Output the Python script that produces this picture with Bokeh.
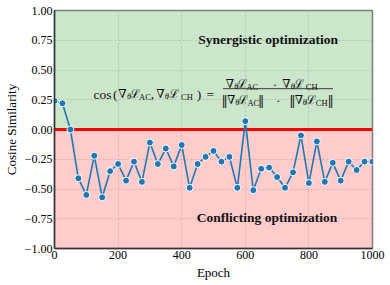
from bokeh.plotting import figure
from bokeh.models import BoxAnnotation, Span, Label, FixedTicker, CustomJSTickFormatter, Range1d
from bokeh.embed import file_html
from bokeh.resources import INLINE

# ---- data ----
epochs = list(range(0, 1001, 25))
cos_sim = [0.24, 0.22, 0.00, -0.41, -0.55, -0.22, -0.57, -0.35, -0.29, -0.43, -0.27, -0.44, -0.11,
           -0.29, -0.16, -0.31, -0.13, -0.49, -0.29, -0.23, -0.18, -0.27, -0.23, -0.49, 0.07, -0.51, -0.33,
           -0.32, -0.40, -0.49, -0.36, -0.05, -0.45, -0.10, -0.44, -0.28, -0.43, -0.27, -0.34, -0.27, -0.27]
x_ticks = [0, 200, 400, 600, 800, 1000]
y_ticks = [-1.0, -0.75, -0.5, -0.25, 0.0, 0.25, 0.5, 0.75, 1.0]
top_label = "Synergistic optimization"
bottom_label = "Conflicting optimization"

SERIF = "Liberation Serif"
MATH = "DejaVu Serif"

p = figure(width=390, height=285, output_backend="svg", toolbar_location=None,
           x_range=Range1d(0, 1000), y_range=Range1d(-1, 1),
           min_border_left=52, min_border_right=18, min_border_top=10, min_border_bottom=37)
p.background_fill_color = "white"
p.border_fill_color = "white"
p.outline_line_color = "#808080"
p.outline_line_width = 1.5

# backgrounds
p.add_layout(BoxAnnotation(bottom=0, top=1, fill_color="green", fill_alpha=0.2, line_alpha=0, level="underlay"))
p.add_layout(BoxAnnotation(bottom=-1, top=0, fill_color="red", fill_alpha=0.2, line_alpha=0, level="underlay"))
p.add_layout(Span(location=0, dimension="width", line_color="red", line_width=3, level="underlay"))

# grid
for g in (p.xgrid, p.ygrid):
    g.grid_line_color = "#b0b0b0"
    g.grid_line_alpha = 0.6
    g.grid_line_dash = "2 2"
    g.grid_line_width = 0.8

# axes
p.xaxis.ticker = FixedTicker(ticks=x_ticks)
p.yaxis.ticker = FixedTicker(ticks=y_ticks)
p.yaxis.formatter = CustomJSTickFormatter(code="return (tick < 0 ? '\u2212' : '') + Math.abs(tick).toFixed(2);")
for ax in (p.xaxis[0], p.yaxis[0]):
    ax.major_tick_in = 0
    ax.major_tick_out = 0
    ax.minor_tick_in = 0
    ax.minor_tick_out = 0
    ax.axis_line_color = "#333333"
    ax.axis_line_width = 1.5
    ax.major_label_text_font = SERIF
    ax.major_label_text_font_size = "12px"
    ax.major_label_text_color = "black"
    ax.major_label_standoff = 2
    ax.axis_label_text_font = SERIF
    ax.axis_label_text_font_size = "13px"
    ax.axis_label_text_font_style = "normal"
    ax.axis_label_text_color = "black"
    ax.axis_label_standoff = 3
p.xaxis.axis_label = "Epoch"
p.yaxis.axis_label = "Cosine Similarity"

# data
p.line(epochs, cos_sim, line_color="#1f77b4", line_width=1.6)
p.scatter(epochs, cos_sim, size=7, fill_color="#1f77b4", line_color="white", line_width=1)

# helpers: reference pixel -> data
def px2x(px):
    return (px - 52.3) / 319.7 * 1000

def py2y(py):
    return 1 - (py - 10) / 238.3 * 2

p.add_layout(Label(x=px2x(267), y=py2y(39), text=top_label, text_font=SERIF, text_font_style="bold",
                   text_font_size="13.5px", text_align="center", text_baseline="middle", text_color="#111111"))
p.add_layout(Label(x=px2x(266), y=py2y(217.5), text=bottom_label, text_font=SERIF, text_font_style="bold",
                   text_font_size="13.5px", text_align="center", text_baseline="middle", text_color="#111111"))

# formula pieces: (text, center px x, kind, baseline px y)
MAIN, TH, SUB, NORM = "main", "theta", "sub", "norm"

formula = []
b = 94
formula += [("cos", 100.5, MAIN, b), ("(", 113.3, MAIN, b), ("\u2207", 120.5, MAIN, b), ("\u03b8", 127.3, TH, b),
            ("\u2112", 133.7, MAIN, b), ("AC", 143.3, SUB, b), (",", 150.8, MAIN, b), ("\u2207", 158.7, MAIN, b),
            ("\u03b8", 165.3, TH, b), ("\u2112", 172.5, MAIN, b), ("CH", 185.5, SUB, b), (")", 197.5, MAIN, b),
            ("=", 209, MAIN, b)]
b = 84
formula += [("\u2207", 228.8, MAIN, b), ("\u03b8", 235, TH, b), ("\u2112", 241.2, MAIN, b), ("AC", 251.2, SUB, b),
            ("\u00b7", 274, MAIN, b), ("\u2207", 285.5, MAIN, b), ("\u03b8", 292, TH, b), ("\u2112", 298.3, MAIN, b),
            ("CH", 310.8, SUB, b)]
b = 100
formula += [("\u2016", 223.3, NORM, b), ("\u2207", 230, MAIN, b), ("\u03b8", 236, TH, b), ("\u2112", 242, MAIN, b),
            ("AC", 252.2, SUB, b), ("\u2016", 260, NORM, b), ("\u00b7", 277.3, MAIN, b), ("\u2016", 291.5, NORM, b),
            ("\u2207", 298, MAIN, b), ("\u03b8", 304, TH, b), ("\u2112", 310, MAIN, b), ("CH", 321, SUB, b),
            ("\u2016", 330, NORM, b)]

for txt, cx, kind, base in formula:
    if kind == MAIN:
        if txt in ("\u2207", "\u2112"):
            kw = dict(text_font=MATH, text_font_size="12px")
        else:
            kw = dict(text_font=SERIF, text_font_size="13.5px")
        by = base
    elif kind == TH:
        kw = dict(text_font=SERIF, text_font_size="8.5px", text_font_style="italic")
        by = base + 1.5
    elif kind == SUB:
        kw = dict(text_font=SERIF, text_font_size="8.5px")
        by = base + 3
    else:
        kw = dict(text_font=MATH, text_font_size="12.5px")
        by = base + 0.5
    p.add_layout(Label(x=px2x(cx), y=py2y(by), text=txt, text_align="center", text_baseline="alphabetic",
                       text_color="#111111", **kw))

# fraction bar
p.segment(x0=[px2x(221.7)], y0=[py2y(88.3)], x1=[px2x(332.3)], y1=[py2y(88.3)], line_color="#111111", line_width=0.8)

open("out.html", "w").write(file_html(p, INLINE))
